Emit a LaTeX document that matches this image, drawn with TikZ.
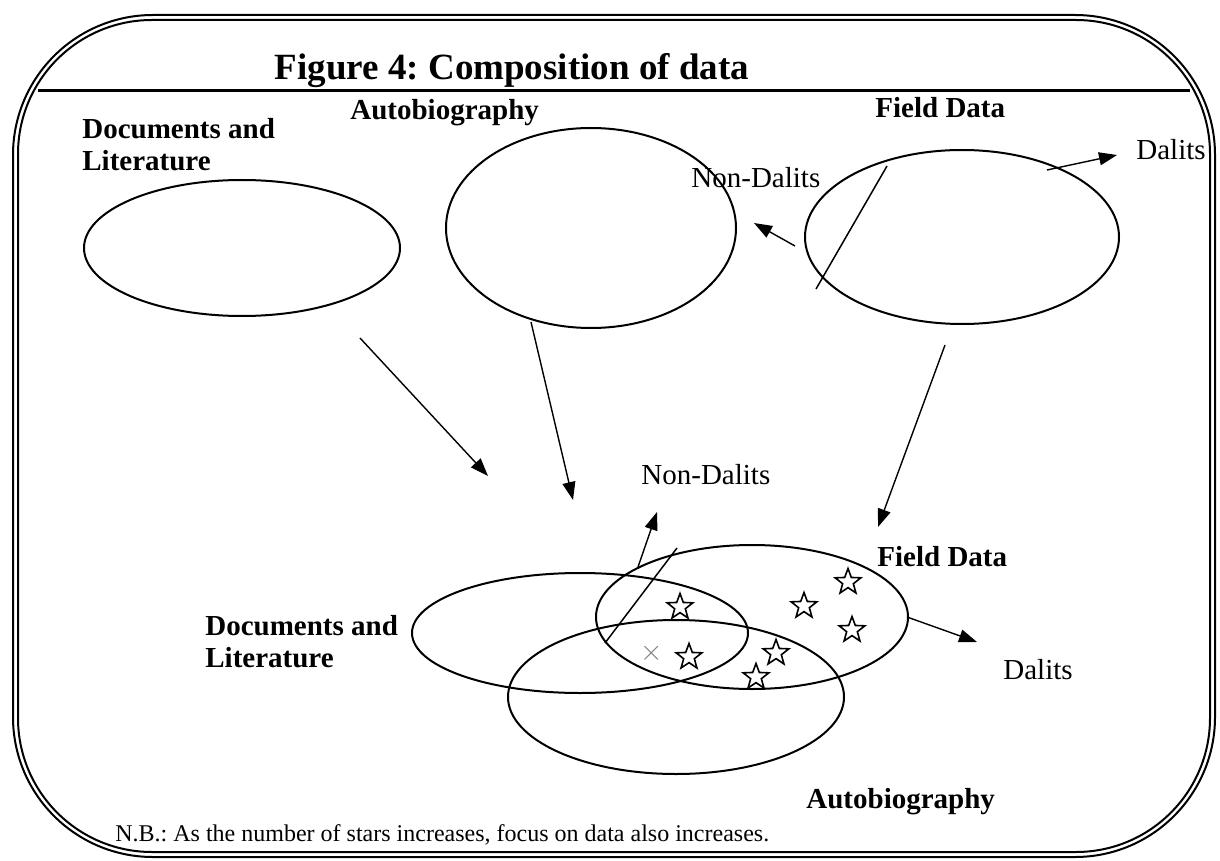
\documentclass[tikz,border=0pt]{standalone}
\usepackage{fontspec}
\setmainfont{Liberation Serif}
\usetikzlibrary{shapes.geometric,arrows.meta}
\tikzstyle{arrow} = [line width=0.7pt,-{Triangle[length=9pt,width=6.5pt]}]
\tikzstyle{cut} = [line width=0.75pt]
\tikzstyle{set} = [ellipse, draw, line width=1pt, inner sep=0pt, outer sep=0pt]
\tikzstyle{head} = [font=\bfseries, inner sep=0pt]
\tikzstyle{word} = [inner sep=0pt]
\tikzstyle{focus} = [star, star points=5, star point ratio=2.4, draw, line width=0.8pt, minimum size=13.5pt, inner sep=0pt]

\begin{document}
\frenchspacing
\fontsize{14.5}{16}\selectfont
\begin{tikzpicture}[x=0.5pt,y=-0.5pt]
\useasboundingbox (0,0) rectangle (1220,861);
% frame
\draw [line width=1pt, rounded corners=70pt] (13,15) rectangle (1215,857);
\draw [line width=1pt, rounded corners=67pt] (18,20) rectangle (1210,852);
\draw [line width=1.5pt] (38,91) -- (1190,91);

\node [head, anchor=base, font=\fontsize{18.5}{20}\selectfont\bfseries] (title) at (512,80) {Figure 4: Composition of data};

% three sources
\node [set, minimum width=158pt, minimum height=68pt] (docT) at (242,248) {};
\node [set, minimum width=145pt, minimum height=100pt] (autT) at (591,228) {};
\node [set, minimum width=157pt, minimum height=87pt] (fldT) at (962,237) {};

\node [head, anchor=north west, align=left] (docTl) at (82,118) {Documents and\\Literature};
\node [head, anchor=base west] (autTl) at (350,120) {Autobiography};
\node [head, anchor=base west] (fldTl) at (875,118) {Field Data};
\node [word, anchor=base west] (ndT) at (691,188) {Non-Dalits};
\node [word, anchor=base west] (dT) at (1136,160) {Dalits};

\coordinate (fT1) at (887,166);
\coordinate (fT2) at (816,289);
\coordinate (ndT0) at (795,246);
\coordinate (ndT1) at (754,223);
\coordinate (dT0) at (1047,170);
\coordinate (dT1) at (1117,155);

% composition
\node [set, minimum width=168pt, minimum height=60pt] (docB) at (580,633) {};
\node [set, minimum width=156pt, minimum height=72pt] (fldB) at (752,617) {};
\node [set, minimum width=168pt, minimum height=77pt] (autB) at (676,697) {};

\node [head, anchor=north west, align=left] (docBl) at (205,615) {Documents and\\Literature};
\node [head, anchor=base west] (fldBl) at (877,566) {Field Data};
\node [head, anchor=base west] (autBl) at (806,808) {Autobiography};
\node [word, anchor=base west] (ndB) at (641,484) {Non-Dalits};
\node [word, anchor=base west] (dB) at (1003,679) {Dalits};

\coordinate (fB1) at (677,548);
\coordinate (fB2) at (605,643);
\coordinate (ndB0) at (638,567);
\coordinate (ndB1) at (657,512);
\coordinate (dB0) at (907,617);
\coordinate (dB1) at (977,642);

\coordinate (docA0) at (360,338);
\coordinate (docA1) at (488,476);
\coordinate (autA0) at (531,322);
\coordinate (autA1) at (573,500);
\coordinate (fldA0) at (945,345);
\coordinate (fldA1) at (878,527);

% stars
\node [focus] (s1) at (680,607) {};
\node [focus] (s2) at (689,657) {};
\node [focus] (s3) at (776,653) {};
\node [focus] (s4) at (756,677) {};
\node [focus] (s5) at (804,606) {};
\node [focus] (s6) at (848,582) {};
\node [focus] (s7) at (852,630) {};
\node [word, text=gray] (x1) at (652,653) {$\times$};

\node [word, anchor=base west, font=\fontsize{12}{14}\selectfont] (nb) at (115,841) {N.B.: As the number of stars increases, focus on data also increases.};

\draw [cut] (fT1) to (fT2);
\draw [arrow] (ndT0) to (ndT1);
\draw [arrow] (dT0) to (dT1);

\draw [arrow] (docA0) to (docA1);
\draw [arrow] (autA0) to (autA1);
\draw [arrow] (fldA0) to (fldA1);

\draw [cut] (fB1) to (fB2);
\draw [arrow] (ndB0) to (ndB1);
\draw [arrow] (dB0) to (dB1);

\end{tikzpicture}
\end{document}
